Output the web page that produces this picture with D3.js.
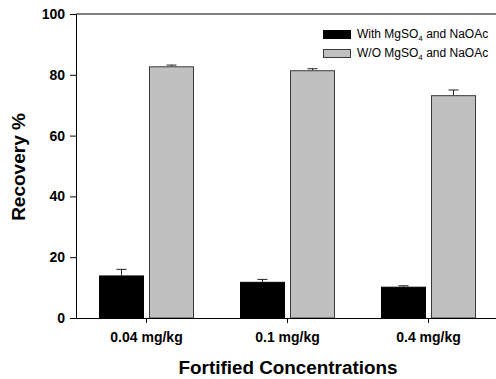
<!DOCTYPE html>
<html><head><meta charset="utf-8">
<script src="https://cdn.jsdelivr.net/npm/d3@7"></script>
<style>body{margin:0;background:#fff;} text{font-family:"Liberation Sans",Arial,sans-serif;}</style>
</head><body>
<svg id="c" width="496" height="379"></svg>
<script>
const categories = ["0.04 mg/kg", "0.1 mg/kg", "0.4 mg/kg"];
const seriesNames = ["With", "W/O"];
const withValues = [14.0, 11.9, 10.3];
const withErrors = [2.0, 0.8, 0.3];
const woValues = [82.8, 81.5, 73.3];
const woErrors = [0.4, 0.5, 1.7];
const yTicks = [0, 20, 40, 60, 80, 100];

const svg = d3.select("#c");
const L = 76, R = 499, T = 14, B = 318;
const x = d3.scaleBand().domain(categories).range([L, R]).paddingInner(0).paddingOuter(0);
const y = d3.scaleLinear().domain([0, 100]).range([B, T]);
const barW = 45, gap = 5;
const fills = ["#000000", "#c0c0c0"];
const strokes = ["#000000", "#3a3a3a"];
const FF = '"Liberation Sans",Arial,sans-serif';

// frame top line
svg.append("line").attr("x1", L).attr("x2", 496).attr("y1", T).attr("y2", T).attr("stroke", "#000").attr("stroke-width", 1);

const data = [];
categories.forEach((c, i) => {
  data.push({c, s: 0, v: withValues[i], e: withErrors[i]});
  data.push({c, s: 1, v: woValues[i], e: woErrors[i]});
});
const bx = d => x(d.c) + x.bandwidth() / 2 + (d.s === 0 ? -gap / 2 - barW : gap / 2);

// error bars
const eg = svg.append("g");
data.forEach(d => {
  const cx = bx(d) + barW / 2;
  eg.append("line").attr("x1", cx).attr("x2", cx).attr("y1", y(d.v)).attr("y2", y(d.v + d.e)).attr("stroke", "#222").attr("stroke-width", 1);
  eg.append("line").attr("x1", cx - 5).attr("x2", cx + 5).attr("y1", y(d.v + d.e)).attr("y2", y(d.v + d.e)).attr("stroke", "#222").attr("stroke-width", 1);
});

svg.append("g").selectAll("rect").data(data).join("rect")
  .attr("x", d => bx(d) + 0.5).attr("y", d => y(d.v) + 0.5)
  .attr("width", barW - 1).attr("height", d => y(0) - y(d.v) - 0.5)
  .attr("fill", d => fills[d.s]).attr("stroke", d => strokes[d.s]).attr("stroke-width", 1);

// y axis
const ya = svg.append("g").attr("transform", `translate(${L},0)`)
  .call(d3.axisLeft(y).tickValues(yTicks).tickSize(6).tickSizeOuter(0).tickPadding(5));
ya.select(".domain").attr("stroke", "#000");
ya.selectAll("text").attr("font-size", 14).attr("font-weight", "bold").attr("fill", "#000").style("font-family", FF);

// x axis
const xa = svg.append("g").attr("transform", `translate(0,${B})`)
  .call(d3.axisBottom(x).tickSize(5).tickSizeOuter(0).tickPadding(9));
xa.select(".domain").attr("stroke", "#000").attr("d", `M${L},0.5H496`);
xa.selectAll("text").attr("font-size", 14).attr("font-weight", "bold").attr("fill", "#000").style("font-family", FF);

// axis titles
svg.append("text").attr("transform", "translate(25,167) rotate(-90)").attr("text-anchor", "middle")
  .attr("font-size", 19).attr("font-weight", "bold").text("Recovery %");
svg.append("text").attr("x", 288).attr("y", 374).attr("text-anchor", "middle")
  .attr("font-size", 17.5).attr("font-weight", "bold")
  .attr("textLength", 219).attr("lengthAdjust", "spacingAndGlyphs").text("Fortified Concentrations");

// legend
const lg = svg.append("g");
[0, 1].forEach(s => {
  const yy = 30 + s * 19;
  lg.append("rect").attr("x", 323.5).attr("y", yy + 0.5).attr("width", 27).attr("height", 8)
    .attr("fill", fills[s]).attr("stroke", strokes[s]);
  const t = lg.append("text").attr("x", 357).attr("y", yy + 7.5).attr("font-size", 12).attr("fill", "#000");
  t.append("tspan").text(seriesNames[s] + " MgSO");
  t.append("tspan").attr("font-size", 8).attr("dy", 3).text("4");
  t.append("tspan").attr("dy", -3).text(" and NaOAc");
});
</script>
</body></html>
